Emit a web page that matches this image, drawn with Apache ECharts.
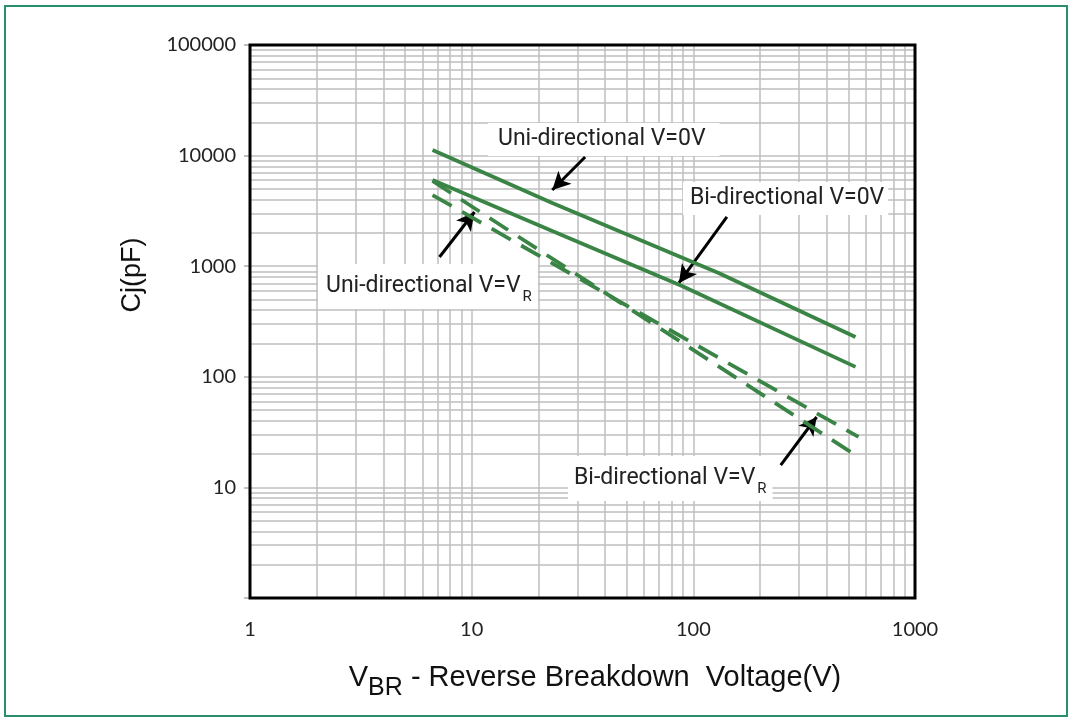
<!DOCTYPE html>
<html>
<head>
<meta charset="utf-8">
<script src="https://cdn.jsdelivr.net/npm/echarts@6/dist/echarts.min.js"></script>
<style>
  html, body { margin: 0; padding: 0; background: #fff; }
  #chart { width: 1075px; height: 720px; }
</style>
</head>
<body>
<div id="chart"></div>
<script>
// values: [V_BR (V), Cj (pF)]
var uni0V = [[6.66, 11240], [23.1, 3730], [130, 868], [539, 229]];
var bi0V  = [[6.66, 6020], [23.1, 2080], [88.9, 662], [539, 123]];
var uniVR = [[6.66, 5890], [37.6, 622], [556, 18.8]];
var biVR  = [[6.66, 4400], [37.6, 610], [556, 28.6]];

// arrows from the call-out labels to the curves: [from, to]
var arrowUni0V = [[32.5, 9710], [23.1, 4890]];
var arrowBi0V  = [[141.7, 2786], [86.1, 705]];
var arrowUniVR = [[7.16, 1211], [10.3, 3090]];
var arrowBiVR  = [[247.9, 15.9], [359.9, 43.3]];

var green = '#3a8446';
var gridGray = '#bfbfbf';

function arrowLine(pair) {
  return [{ coord: pair[0], symbol: 'none' }, { coord: pair[1], symbol: 'arrow' }];
}

var myChart = echarts.init(document.getElementById('chart'));

var option = {
  backgroundColor: '#fff',
  animation: false,
  grid: { left: 250, top: 45, width: 665, height: 553, show: false },
  xAxis: {
    type: 'log',
    logBase: 10,
    min: 1,
    max: 1000,
    axisLine: { show: false },
    axisTick: { show: false },
    axisLabel: {
      margin: 22,
      fontFamily: 'Lato',
      fontSize: 20,
      color: '#222',
      formatter: function (v) { return String(Math.round(v)); }
    },
    splitLine: { show: true, lineStyle: { color: gridGray, width: 1.5 } },
    minorTick: { show: false, splitNumber: 9 },
    minorSplitLine: { show: true, lineStyle: { color: gridGray, width: 1.5 } }
  },
  yAxis: {
    type: 'log',
    logBase: 10,
    min: 1,
    max: 100000,
    axisLine: { show: false },
    axisTick: { show: true, length: 6, lineStyle: { color: '#aaa', width: 1.5 } },
    axisLabel: {
      margin: 14,
      fontFamily: 'Lato',
      fontSize: 20,
      color: '#222',
      formatter: function (v) { return Math.round(v) === 1 ? '' : String(Math.round(v)); }
    },
    splitLine: { show: true, lineStyle: { color: gridGray, width: 1.5 } },
    minorTick: { show: false, splitNumber: 9 },
    minorSplitLine: { show: true, lineStyle: { color: gridGray, width: 1.5 } }
  },
  series: [
    {
      name: 'Uni-directional V=0V', type: 'line', data: uni0V, z: 20,
      showSymbol: false,
      lineStyle: { color: green, width: 3.8 },
      markLine: {
        silent: true, symbolSize: [14, 18], label: { show: false },
        lineStyle: { color: '#000', width: 3, type: 'solid' },
        data: [arrowLine(arrowUni0V), arrowLine(arrowBi0V), arrowLine(arrowUniVR), arrowLine(arrowBiVR)]
      }
    },
    {
      name: 'Bi-directional V=0V', type: 'line', data: bi0V, z: 20,
      showSymbol: false,
      lineStyle: { color: green, width: 3.8 }
    },
    {
      name: 'Uni-directional V=VR', type: 'line', data: uniVR, z: 20,
      showSymbol: false,
      lineStyle: { color: green, width: 3.8, type: [22, 12] }
    },
    {
      name: 'Bi-directional V=VR', type: 'line', data: biVR, z: 20,
      showSymbol: false,
      lineStyle: { color: green, width: 3.8, type: [22, 12] }
    }
  ],
  graphic: [
    {
      type: 'rect', z: 100, silent: true,
      shape: { x: 5, y: 6, width: 1062, height: 710 },
      style: { fill: 'none', stroke: '#2a8f6c', lineWidth: 2 }
    },
    {
      type: 'rect', z: 100, silent: true,
      shape: { x: 250, y: 45, width: 665, height: 553 },
      style: { fill: 'none', stroke: '#000', lineWidth: 3 }
    },
    {
      type: 'text', x: 133, y: 275, rotation: Math.PI / 2, z: 100,
      style: {
        text: 'Cj(pF)', font: '27px "Liberation Sans"', fill: '#111',
        align: 'center', verticalAlign: 'middle'
      }
    },
    {
      type: 'text', x: 595, y: 678, z: 100,
      style: {
        text: '{v|V}{s|BR}{t| - Reverse Breakdown  Voltage(V)}',
        align: 'center', verticalAlign: 'middle', fill: '#111',
        rich: {
          v: { fontFamily: 'Liberation Sans', fontSize: 29, fill: '#111' },
          s: { fontFamily: 'Liberation Sans', fontSize: 25, fill: '#111', padding: [20, 0, 0, 0] },
          t: { fontFamily: 'Liberation Sans', fontSize: 29, fill: '#111' }
        }
      }
    },
    {
      type: 'text', x: 488, y: 123, z: 10,
      style: {
        text: 'Uni-directional V=0V', font: '23px Roboto', fill: '#222',
        backgroundColor: '#fff', padding: [5, 14, 5, 10], align: 'left', verticalAlign: 'top'
      }
    },
    {
      type: 'text', x: 683, y: 182, z: 10,
      style: {
        text: 'Bi-directional V=0V', font: '23px Roboto', fill: '#222',
        backgroundColor: '#fff', padding: [5, 4, 5, 7], align: 'left', verticalAlign: 'top'
      }
    },
    {
      type: 'text', x: 318, y: 264, z: 10,
      style: {
        text: '{a|Uni-directional V=V}{r|R}',
        backgroundColor: '#fff', padding: [4, 6, 4, 8], align: 'left', verticalAlign: 'top',
        rich: {
          a: { fontFamily: 'Roboto', fontSize: 23, fill: '#222' },
          r: { fontFamily: 'Roboto', fontSize: 15, fill: '#222', padding: [22, 0, 0, 2] }
        }
      }
    },
    {
      type: 'text', x: 568, y: 456, z: 10,
      style: {
        text: '{a|Bi-directional V=V}{r|R}',
        backgroundColor: '#fff', padding: [4, 6, 4, 6], align: 'left', verticalAlign: 'top',
        rich: {
          a: { fontFamily: 'Roboto', fontSize: 23, fill: '#222' },
          r: { fontFamily: 'Roboto', fontSize: 15, fill: '#222', padding: [22, 0, 0, 2] }
        }
      }
    }
  ]
};

myChart.setOption(option);
</script>
</body>
</html>
